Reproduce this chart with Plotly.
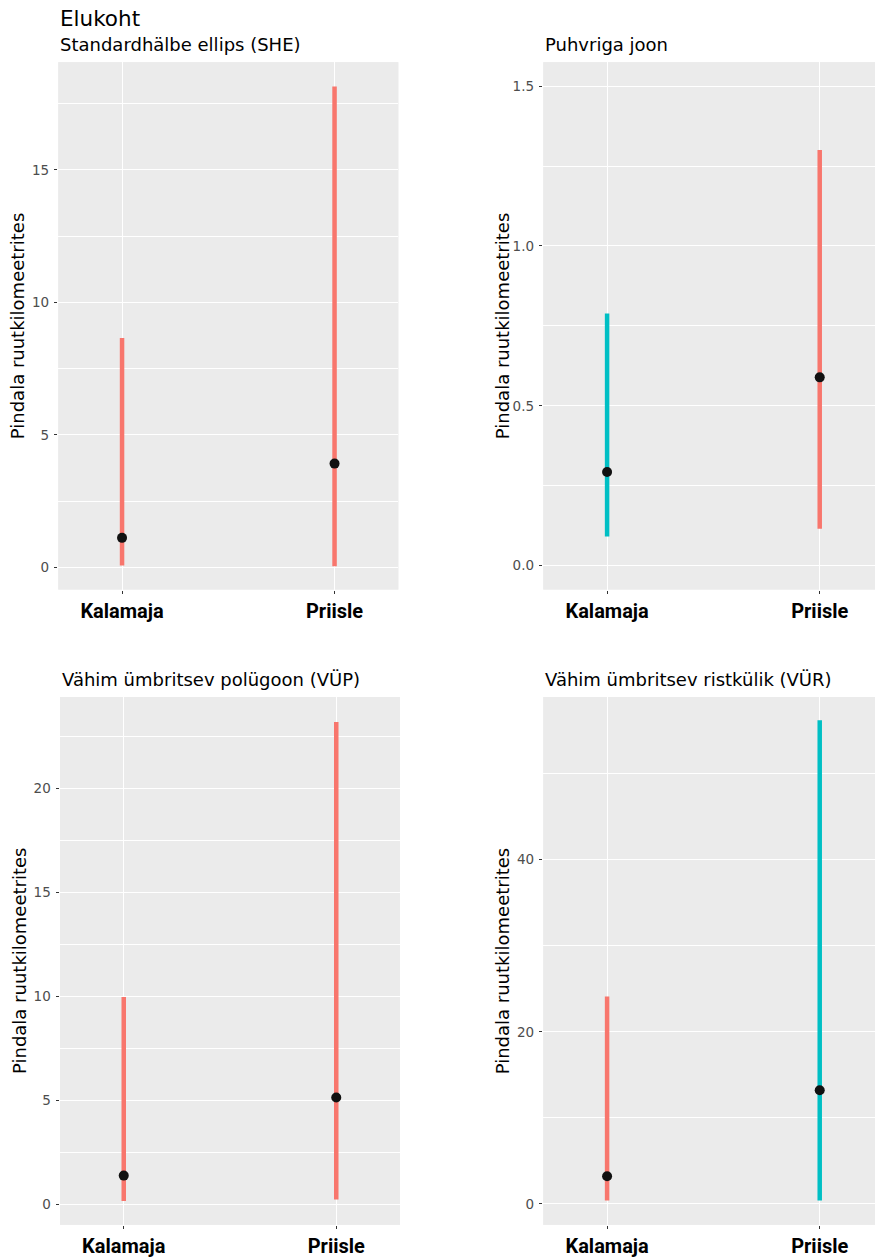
import plotly.graph_objects as go

W, H = 875, 1258

categories = ["Kalamaja", "Priisle"]

panel_titles = ["Standardhälbe ellips (SHE)", "Puhvriga joon",
                "Vähim ümbritsev polügoon (VÜP)", "Vähim ümbritsev ristkülik (VÜR)"]

# per panel: lower, estimate, upper for Kalamaja and Priisle
she_low = [0.08, 0.05]
she_est = [1.12, 3.92]
she_high = [8.66, 18.14]

puhver_low = [0.091, 0.115]
puhver_est = [0.293, 0.589]
puhver_high = [0.789, 1.30]

vup_low = [0.15, 0.22]
vup_est = [1.37, 5.13]
vup_high = [9.97, 23.2]

vur_low = [0.38, 0.38]
vur_est = [3.2, 13.2]
vur_high = [24.1, 56.2]

# colour group per bar (0 = red, 1 = cyan)
she_group = [0, 0]
puhver_group = [1, 0]
vup_group = [0, 0]
vur_group = [0, 1]

y_ranges = [[-0.83, 19.06], [-0.075, 1.575], [-1.0, 24.4], [-2.44, 58.9]]
y_major = [5, 0.5, 5, 20]
y_formats = ["d", ".1f", "d", "d"]

palette = ["#F8766D", "#00BFC4"]

panels = [
    (she_low, she_est, she_high, she_group),
    (puhver_low, puhver_est, puhver_high, puhver_group),
    (vup_low, vup_est, vup_high, vup_group),
    (vur_low, vur_est, vur_high, vur_group),
]

# pixel boxes: (left, right, top, bottom)
boxes = [
    (58.3, 398.3, 62.3, 590.5),
    (543.3, 875.0, 62.3, 590.5),
    (60.0, 400.0, 698.2, 1226.8),
    (543.3, 875.0, 698.2, 1226.8),
]
x_ranges = [[-0.3, 1.3], [-0.3, 1.26], [-0.3, 1.3], [-0.3, 1.26]]

def px(x):
    return x / W

def py(y):
    return 1 - y / H

fig = go.Figure()
annotations = []

for i, ((lo, est, hi, grp), (l, r, t, b)) in enumerate(zip(panels, boxes)):
    n = i + 1
    xa = "x" if n == 1 else f"x{n}"
    ya = "y" if n == 1 else f"y{n}"
    for c, a, z, g in zip(categories, lo, hi, grp):
        fig.add_trace(go.Scatter(
            x=[c, c], y=[a, z], mode="lines",
            line=dict(color=palette[g], width=4.5),
            xaxis=xa, yaxis=ya, showlegend=False, hoverinfo="skip"))
    fig.add_trace(go.Scatter(
        x=categories, y=est, mode="markers",
        marker=dict(color="#111111", size=10),
        xaxis=xa, yaxis=ya, showlegend=False))

    axkey_x = "xaxis" if n == 1 else f"xaxis{n}"
    axkey_y = "yaxis" if n == 1 else f"yaxis{n}"
    fig.layout[axkey_x] = dict(
        domain=[px(l), px(r)], anchor=ya, type="category",
        categoryorder="array", categoryarray=categories,
        range=x_ranges[i], showgrid=True, gridcolor="white", gridwidth=1.4,
        zeroline=False, showline=False,
        ticks="outside", ticklen=3.5, tickcolor="#333333", tickwidth=1,
        tickfont=dict(family="Roboto", size=20, color="black", weight="bold"),
        fixedrange=True,
    )
    fig.layout[axkey_y] = dict(
        domain=[py(b), py(t)], anchor=xa,
        range=y_ranges[i], dtick=y_major[i], tick0=0,
        tickformat=y_formats[i],
        showgrid=True, gridcolor="white", gridwidth=1.4,
        minor=dict(dtick=y_major[i] / 2, tick0=0, showgrid=True,
                   gridcolor="white", gridwidth=0.6),
        zeroline=False, showline=False,
        ticks="outside", ticklen=3.5, tickcolor="#333333", tickwidth=1,
        tickfont=dict(family="DejaVu Sans", size=13.5, color="#4D4D4D"),
        ticklabelstandoff=2,
        fixedrange=True,
    )
    # panel background
    fig.add_shape(type="rect", xref="paper", yref="paper",
                  x0=px(l), x1=px(r), y0=py(b), y1=py(t),
                  fillcolor="#EBEBEB", line=dict(width=0), layer="below")
    # subtitle
    annotations.append(dict(
        text=panel_titles[i], xref="paper", yref="paper",
        x=px(l), y=py(t - 5), xanchor="left", yanchor="bottom",
        showarrow=False, font=dict(family="DejaVu Sans", size=18, color="black")))
    # y axis title
    annotations.append(dict(
        text="Pindala ruutkilomeetrites", xref="paper", yref="paper",
        x=px(l - 40), y=py((t + b) / 2), xanchor="center", yanchor="middle",
        textangle=-90, showarrow=False,
        font=dict(family="DejaVu Sans", size=18, color="black")))

annotations.append(dict(
    text="Elukoht", xref="paper", yref="paper",
    x=px(58), y=py(19), xanchor="left", yanchor="middle",
    showarrow=False, font=dict(family="DejaVu Sans", size=21.5, color="black")))

fig.update_layout(
    width=W, height=H,
    margin=dict(l=0, r=0, t=0, b=0),
    paper_bgcolor="white", plot_bgcolor="#EBEBEB",
    annotations=annotations,
    showlegend=False,
)

fig.write_html("out.html", config={"displayModeBar": False})
